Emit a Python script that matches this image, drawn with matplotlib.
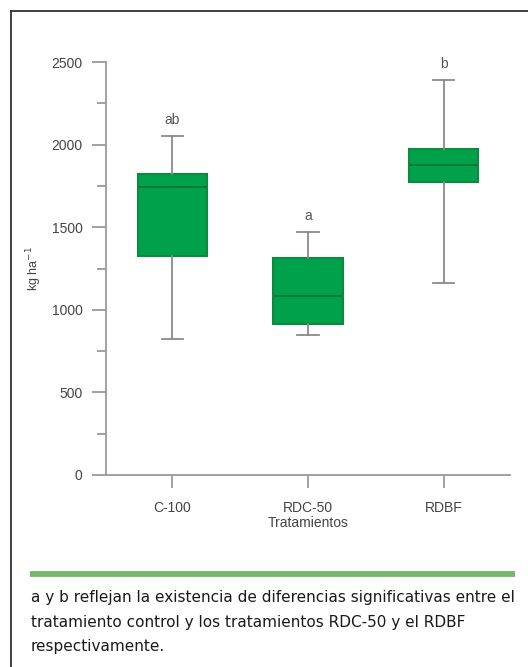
import matplotlib
matplotlib.use("Agg")
import matplotlib.pyplot as plt
from matplotlib.lines import Line2D
from matplotlib.ticker import MultipleLocator
from matplotlib import font_manager

categories = ["C-100", "RDC-50", "RDBF"]
whisker_low = [821, 847, 1160]
q1 = [1327, 914, 1775]
median = [1745, 1083, 1876]
q3 = [1822, 1313, 1973]
whisker_high = [2054, 1469, 2391]
letters = ["ab", "a", "b"]
yticks = [0, 500, 1000, 1500, 2000, 2500]
caption = ("a y b reflejan la existencia de diferencias significativas entre el\n"
           "tratamiento control y los tratamientos RDC-50 y el RDBF\n"
           "respectivamente.")

names = {f.name for f in font_manager.fontManager.ttflist}
cap_font = "Liberation Sans Narrow" if "Liberation Sans Narrow" in names else "DejaVu Sans Condensed"
plt.rcParams['font.family'] = ['Liberation Sans', 'DejaVu Sans']

fig = plt.figure(figsize=(5.28, 6.67), dpi=100)
ax = fig.add_axes([106/528, 1-475/667, (510-106)/528, (475-62)/667])

stats = []
for i, c in enumerate(categories):
    stats.append(dict(label=c, whislo=whisker_low[i], q1=q1[i], med=median[i],
                      q3=q3[i], whishi=whisker_high[i], fliers=[]))
pos = list(range(len(categories)))
ax.bxp(stats, positions=pos, widths=0.51, patch_artist=True, showfliers=False,
       capwidths=0.155,
       boxprops=dict(facecolor="#00a14b", edgecolor="#0b8a40", linewidth=1.5),
       medianprops=dict(color="#087a38", linewidth=1.5),
       whiskerprops=dict(color="#8a8a8a", linewidth=1.3),
       capprops=dict(color="#8a8a8a", linewidth=1.3))

for i, l in enumerate(letters):
    ax.text(pos[i], whisker_high[i] + 55, l, ha="center", va="bottom",
            fontsize=10, color="#555555")

ax.set_xlim(-0.49, 2.49)
ax.set_ylim(0, 2500)
ax.set_yticks(yticks)
ax.yaxis.set_minor_locator(MultipleLocator(250))
ax.set_xticks(pos)
ax.set_xticklabels(categories)
for s in ["top", "right"]:
    ax.spines[s].set_visible(False)
for s in ["left", "bottom"]:
    ax.spines[s].set_color("#9a9a9a")
    ax.spines[s].set_linewidth(1.3)
ax.tick_params(axis="y", which="major", length=10, width=1.3, color="#9a9a9a",
               labelsize=10, labelcolor="#444444", pad=7)
ax.tick_params(axis="y", which="minor", length=6.5, width=1.3, color="#9a9a9a")
ax.tick_params(axis="x", which="major", length=9.5, width=1.3, color="#9a9a9a",
               labelsize=10, labelcolor="#444444", pad=9)
ax.set_xlabel("Tratamientos", fontsize=10, color="#444444", labelpad=1)
ax.set_ylabel("kg ha$^{-1}$", fontsize=9, color="#444444")
ax.yaxis.set_label_coords((44-106)/404, 0.5)

# frame
fig.add_artist(Line2D([11/528, 11/528], [0, 1-11/667], transform=fig.transFigure,
                      color="#333333", linewidth=1.3))
fig.add_artist(Line2D([11/528, 1], [1-11/667, 1-11/667], transform=fig.transFigure,
                      color="#333333", linewidth=1.3))
# green separator
fig.add_artist(Line2D([30/528, 515/528], [1-574/667, 1-574/667], transform=fig.transFigure,
                      color="#76b86b", linewidth=4.2, solid_capstyle="butt"))

fig.text(31/528, 1-590/667, caption, ha="left", va="top", fontsize=11,
         family=cap_font, color="#1a1a1a", linespacing=1.8)

fig.savefig("out.png", dpi=100)
